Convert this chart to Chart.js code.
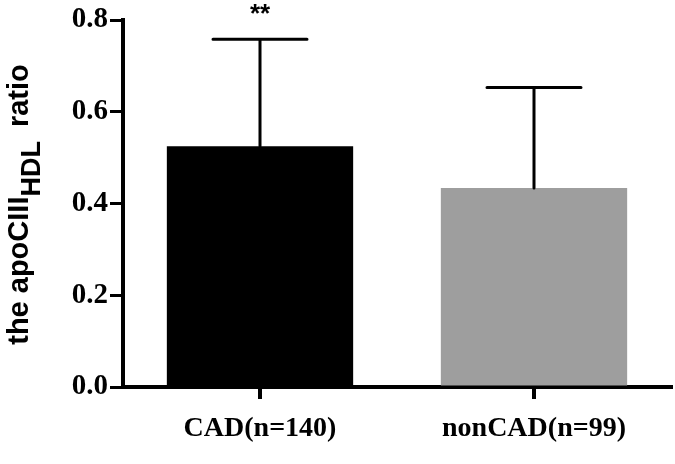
<!DOCTYPE html>
<html lang="en">
<head>
  <meta charset="UTF-8" />
  <title>apoCIII HDL ratio</title>
  <style>
    body {
      margin: 0;
      background: #fff;
    }
    canvas {
      display: block;
    }
  </style>
</head>
<body>

<canvas id="ratioChart" width="675" height="464"></canvas>

<script src="https://cdn.jsdelivr.net/npm/chart.js"></script>

<script>
  // data
  const groups = ['CAD(n=140)', 'nonCAD(n=99)'];
  const means = [0.525, 0.434];
  const sds = [0.233, 0.219];
  const marks = ['**', ''];
  const barColors = ['#000000', '#9e9e9e'];
  const yTicks = [0.0, 0.2, 0.4, 0.6, 0.8];

  const serif = '"Liberation Serif", "Times New Roman", serif';
  const sans = '"Liberation Sans", Arial, sans-serif';

  // error bars (upper half only) + significance stars
  const errorBars = {
    id: 'errorBars',
    afterDatasetsDraw(chart) {
      const { ctx, scales: { x, y } } = chart;
      ctx.save();
      ctx.strokeStyle = '#000';
      ctx.lineWidth = 3;
      ctx.lineCap = 'round';
      means.forEach((m, i) => {
        const cx = x.getPixelForValue(i);
        const yBase = y.getPixelForValue(m);
        const yTop = y.getPixelForValue(m + sds[i]);
        ctx.beginPath();
        ctx.moveTo(cx, yBase);
        ctx.lineTo(cx, yTop);
        ctx.moveTo(cx - 47, yTop);
        ctx.lineTo(cx + 47, yTop);
        ctx.stroke();

        if (marks[i]) {
          ctx.fillStyle = '#000';
          ctx.font = 'bold 26px ' + sans;
          ctx.textAlign = 'center';
          ctx.textBaseline = 'middle';
          ctx.fillText(marks[i], cx, yTop - 24);
        }
      });
      ctx.restore();
    }
  };

  // y title with subscript, drawn by hand since chart.js titles have no subscripts
  const yTitle = {
    id: 'yTitle',
    afterDraw(chart) {
      const { ctx, chartArea } = chart;
      const main = 'bold 29px ' + sans;
      const sub = 'bold 27px ' + sans;
      const parts = [
        { t: 'the apoCIII', f: main, dy: 0, gap: 0 },
        { t: 'HDL', f: sub, dy: 12, gap: 0 },
        { t: 'ratio', f: main, dy: 0, gap: 14 }
      ];
      ctx.save();
      let total = 0;
      parts.forEach(p => { ctx.font = p.f; p.w = ctx.measureText(p.t).width; total += p.w + p.gap; });
      const cy = (chartArea.top + chartArea.bottom) / 2 + 1;
      ctx.translate(28, cy);
      ctx.rotate(-Math.PI / 2);
      ctx.fillStyle = '#000';
      ctx.textBaseline = 'alphabetic';
      ctx.textAlign = 'left';
      let px = -total / 2;
      parts.forEach(p => {
        px += p.gap;
        ctx.font = p.f;
        ctx.fillText(p.t, px, p.dy);
        px += p.w;
      });
      ctx.restore();
    }
  };

  const ctx = document.getElementById('ratioChart').getContext('2d');
  new Chart(ctx, {
    type: 'bar',
    data: {
      labels: groups,
      datasets: [{
        data: means,
        backgroundColor: barColors,
        borderWidth: 0,
        categoryPercentage: 1,
        barPercentage: 0.68
      }]
    },
    options: {
      responsive: false,
      animation: false,
      layout: { padding: { top: 20, right: 4, left: 0, bottom: 0 } },
      plugins: {
        legend: { display: false },
        tooltip: { enabled: false }
      },
      scales: {
        y: {
          min: 0,
          max: 0.8,
          afterBuildTicks: (scale) => { scale.ticks = yTicks.map(v => ({ value: v })); },
          afterFit: (scale) => { scale.width = 123; },
          ticks: {
            callback: (v) => Number(v).toFixed(1),
            font: { family: serif, size: 29, weight: 'bold' },
            color: '#000',
            padding: 2
          },
          grid: {
            drawOnChartArea: false,
            tickLength: 13,
            lineWidth: 3,
            color: '#000'
          },
          border: { display: true, width: 4, color: '#000' }
        },
        x: {
          afterFit: (scale) => { scale.height = 77; },
          ticks: {
            font: { family: serif, size: 28, weight: 'bold' },
            color: '#000',
            padding: 13
          },
          grid: {
            offset: false,
            drawOnChartArea: false,
            tickLength: 12,
            lineWidth: 4,
            color: '#000'
          },
          border: { display: true, width: 4, color: '#000' }
        }
      }
    },
    plugins: [errorBars, yTitle]
  });
</script>

</body>
</html>
